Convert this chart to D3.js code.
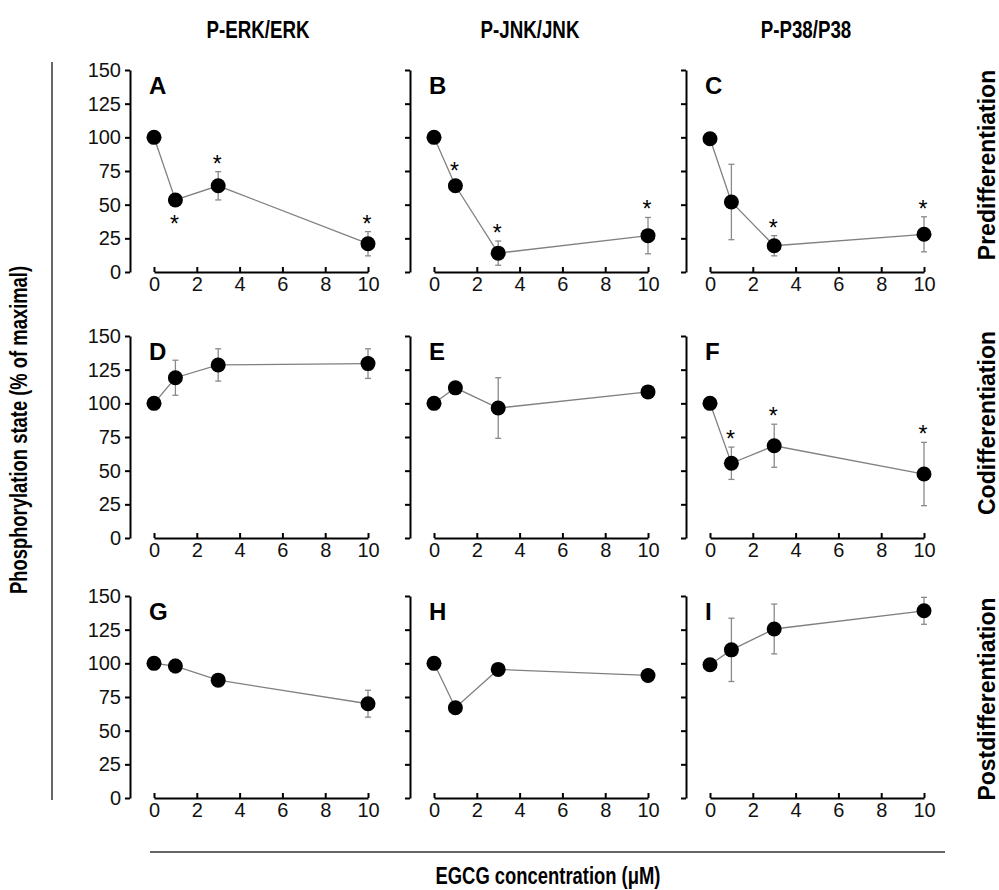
<!DOCTYPE html>
<html>
<head>
<meta charset="utf-8">
<script src="https://cdn.jsdelivr.net/npm/d3@7"></script>
<style>
  body { margin: 0; background: #fff; }
  text { font-family: "Liberation Sans", Arial, sans-serif; }
  .narrow { font-weight: bold; }
</style>
</head>
<body>
<div id="chart"></div>
<script>
// EGCG doses (µM)
const conc = [0, 1, 3, 10];
const xTicks = [0, 2, 4, 6, 8, 10];
const yTicks = [0, 25, 50, 75, 100, 125, 150];

const kinases = ["P-ERK/ERK", "P-JNK/JNK", "P-P38/P38"];
const stages = ["Predifferentiation", "Codifferentiation", "Postdifferentiation"];
const letters = ["A", "B", "C", "D", "E", "F", "G", "H", "I"];

// mean and SD for each panel
const meanA = [100, 53.5, 64, 21];    const errA = [0, 2, 10.5, 9];
const meanB = [100, 64, 14, 27];      const errB = [0, 2, 9, 13.5];
const meanC = [99, 52, 19.5, 28];     const errC = [0, 28, 7.5, 13];
const meanD = [100, 119, 128.5, 129.5]; const errD = [0, 13, 12, 11];
const meanE = [100, 111.5, 96.5, 108.5]; const errE = [0, 2, 22.5, 3];
const meanF = [100, 55.5, 68.5, 47.5];  const errF = [0, 12, 16, 23.5];
const meanG = [100, 98, 87.5, 70];    const errG = [0, 5, 4, 10];
const meanH = [100, 67, 95.5, 91];    const errH = [0, 4, 2, 2];
const meanI = [99, 110, 125.5, 139];  const errI = [0, 23.5, 18.5, 10];

// significance marks: "" none, "up" star above, "down" star below
const starA = ["", "down", "up", "up"];
const starB = ["", "up", "up", "up"];
const starC = ["", "", "up", "up"];
const starF = ["", "up", "up", "up"];
const none = ["", "", "", ""];

const panels = [
  { mean: meanA, err: errA, star: starA },
  { mean: meanB, err: errB, star: starB },
  { mean: meanC, err: errC, star: starC },
  { mean: meanD, err: errD, star: none },
  { mean: meanE, err: errE, star: none },
  { mean: meanF, err: errF, star: starF },
  { mean: meanG, err: errG, star: none },
  { mean: meanH, err: errH, star: none },
  { mean: meanI, err: errI, star: none }
];

const W = 999, H = 890;
const svg = d3.select("#chart").append("svg")
  .attr("width", W).attr("height", H);

// squeeze bold text to look like a narrow face
function condense(sel, k) {
  sel.each(function () {
    const L = this.getComputedTextLength();
    d3.select(this).attr("textLength", L * k).attr("lengthAdjust", "spacingAndGlyphs");
  });
}

// layout of the 3x3 grid
const colAxis = [130, 410, 686];   // x of each y axis
const rowTop = [70, 336, 596];     // y of 150 on each row
const ph = 202;                    // panel height
const xOff = 24, xw = 214;         // gap from y axis to x=0, width of x axis

panels.forEach(function (p, i) {
  const r = Math.floor(i / 3), c = i % 3;
  const g = svg.append("g")
    .attr("transform", "translate(" + colAxis[c] + "," + rowTop[r] + ")");

  const x = d3.scaleLinear().domain([0, 10]).range([xOff, xOff + xw]);
  const y = d3.scaleLinear().domain([0, 150]).range([ph, 0]);

  // y axis
  const yAxis = g.append("g")
    .call(d3.axisLeft(y).tickValues(yTicks).tickSize(5).tickSizeOuter(0).tickPadding(4)
      .tickFormat(c === 0 ? d3.format("d") : ""));
  yAxis.selectAll("path, line").attr("stroke", "#000").attr("stroke-width", 2);
  yAxis.selectAll("text").style("font-size", "20px").attr("fill", "#111");

  // x axis, ticks pointing up
  const xAxis = g.append("g")
    .attr("transform", "translate(0," + ph + ")")
    .call(d3.axisBottom(x).tickValues(xTicks).tickSize(-5).tickSizeOuter(0).tickPadding(5));
  xAxis.selectAll("path, line").attr("stroke", "#000").attr("stroke-width", 2);
  xAxis.selectAll("text").style("font-size", "20px").attr("fill", "#111");

  const pts = conc.map(function (d, k) {
    return { c: d, m: p.mean[k], e: p.err[k], s: p.star[k] };
  });

  // connecting line
  g.append("path")
    .datum(pts)
    .attr("fill", "none")
    .attr("stroke", "#808080")
    .attr("stroke-width", 1.3)
    .attr("d", d3.line().x(function (d) { return x(d.c); }).y(function (d) { return y(d.m); }));

  // error bars
  const eb = g.selectAll(".eb")
    .data(pts.filter(function (d) { return d.e > 0; }))
    .enter().append("g")
    .attr("stroke", "#8a8a8a").attr("stroke-width", 1.3);
  eb.append("line")
    .attr("x1", function (d) { return x(d.c); }).attr("x2", function (d) { return x(d.c); })
    .attr("y1", function (d) { return y(d.m + d.e); }).attr("y2", function (d) { return y(d.m - d.e); });
  eb.append("line")
    .attr("x1", function (d) { return x(d.c) - 3; }).attr("x2", function (d) { return x(d.c) + 3; })
    .attr("y1", function (d) { return y(d.m + d.e); }).attr("y2", function (d) { return y(d.m + d.e); });
  eb.append("line")
    .attr("x1", function (d) { return x(d.c) - 3; }).attr("x2", function (d) { return x(d.c) + 3; })
    .attr("y1", function (d) { return y(d.m - d.e); }).attr("y2", function (d) { return y(d.m - d.e); });

  // points
  g.selectAll(".pt")
    .data(pts)
    .enter().append("circle")
    .attr("cx", function (d) { return x(d.c); })
    .attr("cy", function (d) { return y(d.m); })
    .attr("r", 7.5)
    .attr("fill", "#000");

  // stars
  g.selectAll(".star")
    .data(pts.filter(function (d) { return d.s !== ""; }))
    .enter().append("text")
    .attr("x", function (d) { return x(d.c) - 1; })
    .attr("y", function (d) {
      if (d.s === "down") return y(d.m) + 7 + 13 + 12;
      const top = Math.min(y(d.m + d.e), y(d.m) - 7);
      return top - 12 + 12;
    })
    .attr("text-anchor", "middle")
    .style("font-size", "23px")
    .text("*");

  // panel letter
  g.append("text")
    .attr("x", 19)
    .attr("y", 24)
    .style("font-size", "24px")
    .style("font-weight", "bold")
    .text(letters[i]);
});

// column headers
const headX = [258, 530, 806];
svg.selectAll(".head")
  .data(kinases)
  .enter().append("text")
  .attr("class", "narrow")
  .attr("x", function (d, i) { return headX[i]; })
  .attr("y", 38)
  .attr("text-anchor", "middle")
  .style("font-size", "24px")
  .text(function (d) { return d; })
  .call(condense, 0.78);

// row labels on the right
const stageY = [165, 423, 699];
svg.selectAll(".stage")
  .data(stages)
  .enter().append("text")
  .attr("transform", function (d, i) { return "translate(995," + stageY[i] + ")rotate(-90)"; })
  .attr("text-anchor", "middle")
  .style("font-size", "23px")
  .style("font-weight", "bold")
  .text(function (d) { return d; });

// left title and rule
svg.append("line")
  .attr("x1", 52).attr("x2", 52).attr("y1", 62).attr("y2", 800)
  .attr("stroke", "#333").attr("stroke-width", 1.5);
svg.append("text")
  .attr("class", "narrow")
  .attr("transform", "translate(27,430)rotate(-90)")
  .attr("text-anchor", "middle")
  .style("font-size", "23px")
  .text("Phosphorylation state (% of maximal)")
  .call(condense, 0.8);

// bottom title and rule
svg.append("line")
  .attr("x1", 150).attr("x2", 945).attr("y1", 852).attr("y2", 852)
  .attr("stroke", "#333").attr("stroke-width", 1.5);
svg.append("text")
  .attr("class", "narrow")
  .attr("x", 548).attr("y", 884)
  .attr("text-anchor", "middle")
  .style("font-size", "23px")
  .text("EGCG concentration (\u03bcM)")
  .call(condense, 0.8);
</script>
</body>
</html>
